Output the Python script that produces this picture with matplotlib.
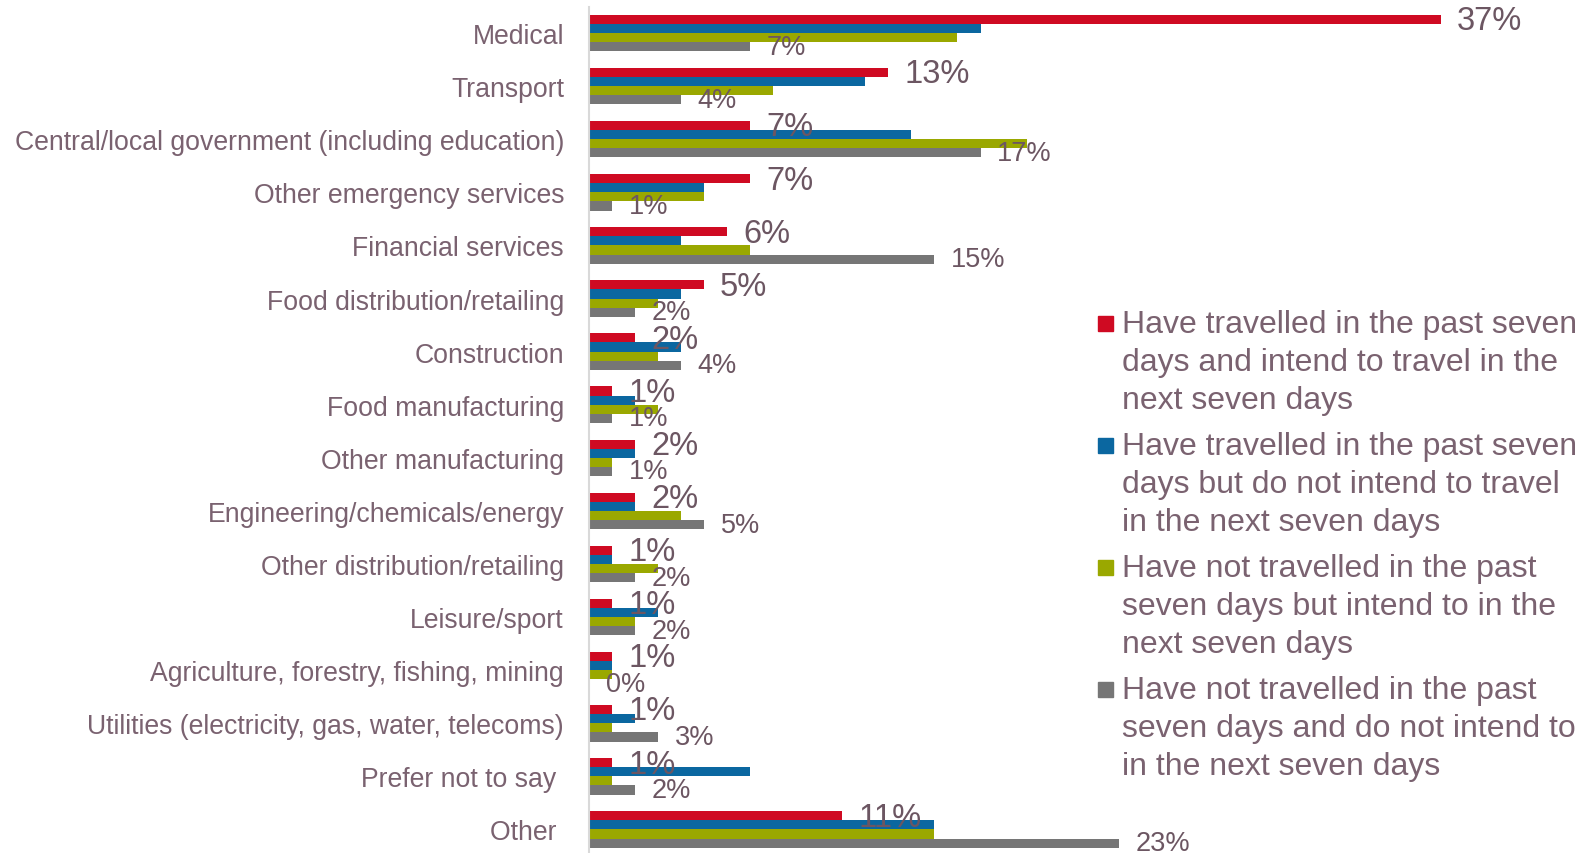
import matplotlib
matplotlib.use("Agg")
import matplotlib.pyplot as plt
from matplotlib.patches import Rectangle
import numpy as np

plt.rcParams['font.family'] = ['Liberation Sans', 'DejaVu Sans']

categories = [
    "Medical", "Transport", "Central/local government (including education)",
    "Other emergency services", "Financial services", "Food distribution/retailing",
    "Construction", "Food manufacturing", "Other manufacturing",
    "Engineering/chemicals/energy", "Other distribution/retailing", "Leisure/sport",
    "Agriculture, forestry, fishing, mining",
    "Utilities (electricity, gas, water, telecoms)", "Prefer not to say ", "Other ",
]
travelled_will_travel = [37, 13, 7, 7, 6, 5, 2, 1, 2, 2, 1, 1, 1, 1, 1, 11]
travelled_wont_travel = [17, 12, 14, 5, 4, 4, 4, 2, 2, 2, 1, 3, 1, 2, 7, 15]
not_travelled_will_travel = [16, 8, 19, 5, 7, 3, 3, 3, 1, 4, 3, 2, 1, 1, 1, 15]
not_travelled_wont_travel = [7, 4, 17, 1, 15, 2, 4, 1, 1, 5, 2, 2, 0, 3, 2, 23]

series_labels = [
    "Have travelled in the past seven\ndays and intend to travel in the\nnext seven days",
    "Have travelled in the past seven\ndays but do not intend to travel\nin the next seven days",
    "Have not travelled in the past\nseven days but intend to in the\nnext seven days",
    "Have not travelled in the past\nseven days and do not intend to\nin the next seven days",
]
colors = ["#CF0A22", "#0B67A0", "#9AA800", "#767676"]
text_color = "#6C5662"
label_color = "#7A6270"

W, H = 1593, 854
fig = plt.figure(figsize=(W / 100, H / 100), dpi=100)

ax_left, ax_top, ax_bottom = 589, 7.5, 857
px_per_pct = 23.03
ax = fig.add_axes([ax_left / W, (H - ax_bottom) / H, (W - ax_left) / W, (ax_bottom - ax_top) / H])

n = len(categories)
y = np.arange(n)
bar_h = 0.172
series = [travelled_will_travel, travelled_wont_travel,
          not_travelled_will_travel, not_travelled_wont_travel]
offsets = [-1.5, -0.5, 0.5, 1.5]
for vals, col, off in zip(series, colors, offsets):
    ax.barh(y + off * bar_h, vals, height=bar_h, color=col, edgecolor='none', zorder=2)

# value labels for the first and last series
for i in range(n):
    ax.annotate(f"{travelled_will_travel[i]:.0f}%",
                (travelled_will_travel[i], y[i] - 1.5 * bar_h),
                xytext=(11.5, -1), textcoords='offset points',
                ha='left', va='center', fontsize=23.5, color=text_color, zorder=3)
    ax.annotate(f"{not_travelled_wont_travel[i]:.0f}%",
                (not_travelled_wont_travel[i], y[i] + 1.5 * bar_h),
                xytext=(12, 0), textcoords='offset points',
                ha='left', va='center', fontsize=19.5, color=text_color, zorder=3)

ax.set_xlim(0, (W - ax_left) / px_per_pct)
ax.set_ylim(n - 0.5, -0.5)
ax.set_yticks(y)
ax.set_yticklabels(categories, fontsize=19.2, color=label_color)
ax.tick_params(axis='y', length=0, pad=18)
ax.set_xticks([])
for s in ['top', 'right', 'bottom']:
    ax.spines[s].set_visible(False)
ax.spines['left'].set_color('#D9D9D9')
ax.spines['left'].set_linewidth(1.5)
ax.patch.set_alpha(0)

# legend drawn as swatches with wrapped text
text_x = 1121.7
first_base = 334
line_gap = 37.7
step = 122
for k, (lab, col) in enumerate(zip(series_labels, colors)):
    base = first_base + k * step
    sq = 15
    fig.patches.append(Rectangle((1098 / W, (H - (base - 10) - sq / 2) / H), sq / W, sq / H,
                                 transform=fig.transFigure, color=col))
    last_base = base + 2 * line_gap
    fig.text(text_x / W, (H - last_base) / H, lab, fontsize=23, color=label_color,
             ha='left', va='baseline', linespacing=1.347)

fig.savefig("out.png", dpi=100)
